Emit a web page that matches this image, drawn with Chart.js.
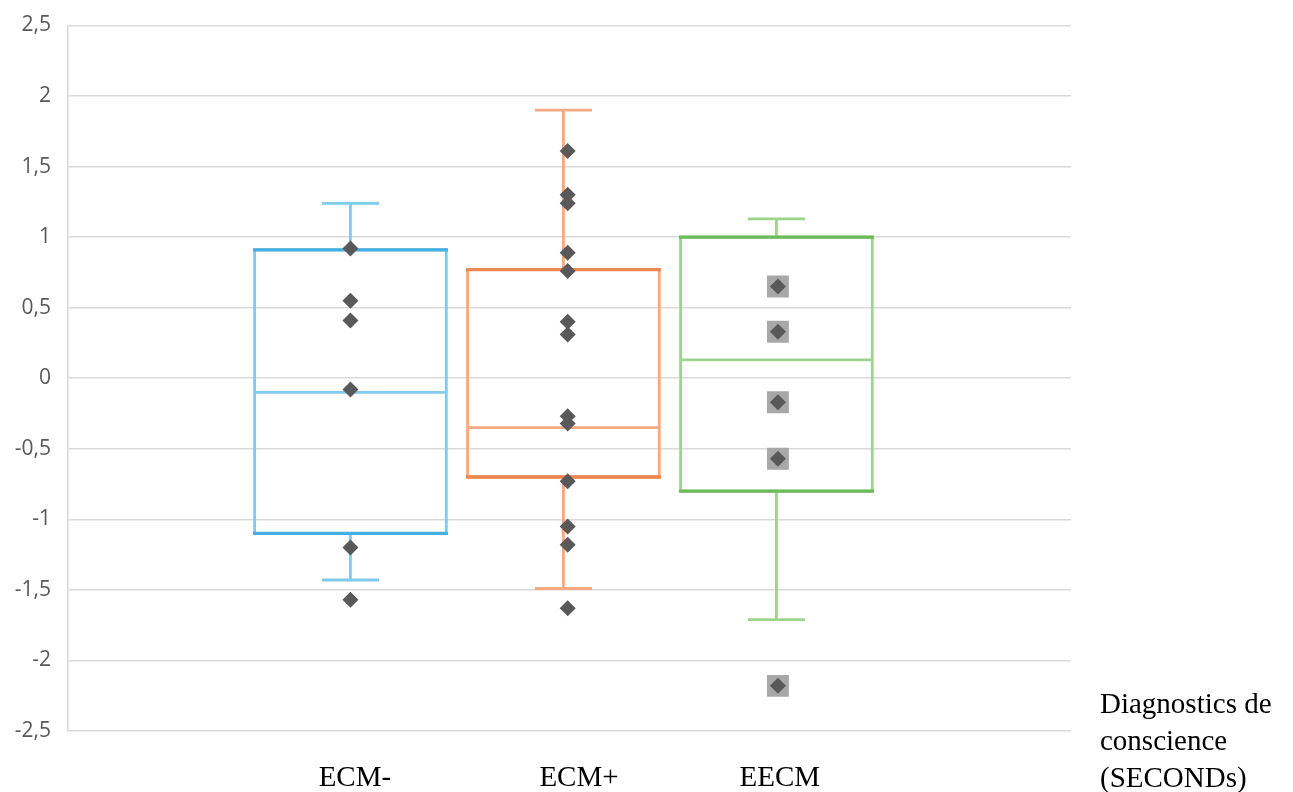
<!DOCTYPE html>
<html>
<head>
<meta charset="utf-8">
<script src="https://cdn.jsdelivr.net/npm/chart.js@4"></script>
<style>
  html, body { margin: 0; padding: 0; background: #ffffff; }
  #c { display: block; }
</style>
</head>
<body>
<canvas id="c" width="1293" height="792"></canvas>
<script>
// ---- data ----
const categories = ['ECM-', 'ECM+', 'EECM'];
const whiskerHigh = [1.24, 1.90, 1.13];
const q3 = [0.91, 0.77, 1.00];
const median = [-0.10, -0.35, 0.13];
const q1 = [-1.10, -0.70, -0.80];
const whiskerLow = [-1.43, -1.49, -1.71];
const pointsECMminus = [0.92, 0.55, 0.41, -0.08, -1.20, -1.57];
const pointsECMplus = [1.61, 1.30, 1.24, 0.89, 0.76, 0.40, 0.31, -0.27, -0.32, -0.73, -1.05, -1.18, -1.63];
const pointsEECM = [0.65, 0.33, -0.17, -0.57, -2.18];
const axisTitleLines = ['Diagnostics de', 'conscience', '(SECONDs)'];

// ---- styling / layout constants ----
const lightColors = ['#7fcbee', '#f4a982', '#9cd48e'];
const darkColors = ['#45afe1', '#ee8850', '#6dbb5c'];
const boxHalf = 0.45;
const capHalf = 0.134;
const pointNudge = [0, 0.02, 0.007];
const labelNudge = [0.021, 0.073, 0.016];
const pointSets = [pointsECMminus, pointsECMplus, pointsEECM];
const haloSets = [false, false, true];

const datasets = [];
categories.forEach((name, i) => {
  const cx = i, h = boxHalf, c = capHalf;
  const gap = { x: cx, y: null };
  // points
  datasets.push({
    type: 'scatter', label: name + ' points', order: 0,
    data: pointSets[i].map(v => ({ x: cx + pointNudge[i], y: v })),
    pointStyle: 'rectRot', pointRadius: 8, pointBackgroundColor: '#595959',
    pointBorderWidth: 0, showLine: false
  });
  if (haloSets[i]) {
    datasets.push({
      type: 'scatter', label: name + ' halo', order: 1,
      data: pointSets[i].map(v => ({ x: cx + pointNudge[i], y: v })),
      pointStyle: 'rect', pointRadius: 15.5, pointBackgroundColor: '#a8a8a8',
      pointBorderWidth: 0, showLine: false
    });
  }
  // quartile lines (darker)
  datasets.push({
    type: 'line', label: name + ' quartiles', order: 2,
    data: [{ x: cx - h, y: q3[i] }, { x: cx + h, y: q3[i] }, gap,
           { x: cx - h, y: q1[i] }, { x: cx + h, y: q1[i] }],
    borderColor: darkColors[i], borderWidth: 3.3, borderCapStyle: 'square',
    pointRadius: 0, spanGaps: false, fill: false, tension: 0
  });
  // box outline
  datasets.push({
    type: 'line', label: name + ' box', order: 3,
    data: [{ x: cx - h, y: q1[i] }, { x: cx - h, y: q3[i] }, { x: cx + h, y: q3[i] },
           { x: cx + h, y: q1[i] }, { x: cx - h, y: q1[i] }],
    borderColor: lightColors[i], borderWidth: 2.8,
    pointRadius: 0, fill: false, tension: 0
  });
  // median
  datasets.push({
    type: 'line', label: name + ' median', order: 3,
    data: [{ x: cx - h, y: median[i] }, { x: cx + h, y: median[i] }],
    borderColor: lightColors[i], borderWidth: 2.8,
    pointRadius: 0, fill: false, tension: 0
  });
  // whiskers
  datasets.push({
    type: 'line', label: name + ' whiskers', order: 3,
    data: [{ x: cx, y: q3[i] }, { x: cx, y: whiskerHigh[i] }, gap,
           { x: cx - c, y: whiskerHigh[i] }, { x: cx + c, y: whiskerHigh[i] }, gap,
           { x: cx, y: q1[i] }, { x: cx, y: whiskerLow[i] }, gap,
           { x: cx - c, y: whiskerLow[i] }, { x: cx + c, y: whiskerLow[i] }],
    borderColor: lightColors[i], borderWidth: 2.8,
    pointRadius: 0, spanGaps: false, fill: false, tension: 0
  });
});

const sideTitle = {
  id: 'sideTitle',
  afterDraw(chart) {
    const ctx = chart.ctx;
    ctx.save();
    ctx.font = '29px "Liberation Serif", "Times New Roman", serif';
    ctx.fillStyle = '#000000';
    ctx.textAlign = 'left';
    ctx.textBaseline = 'alphabetic';
    const x = chart.chartArea.right + 29;
    axisTitleLines.forEach((t, k) => ctx.fillText(t, x, 713 + k * 37));
    ctx.restore();
  }
};

new Chart(document.getElementById('c'), {
  type: 'line',
  data: { datasets },
  options: {
    responsive: false,
    animation: false,
    events: [],
    layout: { padding: { top: 25.5, right: 222, left: 0, bottom: 0 } },
    plugins: { legend: { display: false }, tooltip: { enabled: false } },
    scales: {
      x: {
        type: 'linear',
        min: -1.326, max: 3.383,
        grid: { display: false, drawTicks: false },
        border: { display: false },
        afterFit(s) { s.height = 61; s.paddingLeft = 0; s.paddingRight = 0; },
        afterBuildTicks(s) { s.ticks = categories.map((_, i) => ({ value: i + labelNudge[i] })); },
        ticks: {
          autoSkip: false, maxRotation: 0, padding: 30,
          font: { family: '"Liberation Serif", "Times New Roman", serif', size: 29 },
          color: '#000000',
          callback: (v, i) => categories[i]
        }
      },
      y: {
        min: -2.5, max: 2.5,
        grid: { color: '#d9d9d9', lineWidth: 1.6, drawTicks: false },
        border: { display: true, color: '#d9d9d9', width: 1.6 },
        afterFit(s) { s.width = 68; s.paddingTop = 0; s.paddingBottom = 0; },
        ticks: {
          stepSize: 0.5, padding: 17,
          font: { family: '"Open Sans", "Noto Sans", sans-serif', size: 21 },
          color: '#595959',
          callback: v => String(v).replace('.', ',')
        }
      }
    }
  },
  plugins: [sideTitle]
});
</script>
</body>
</html>
